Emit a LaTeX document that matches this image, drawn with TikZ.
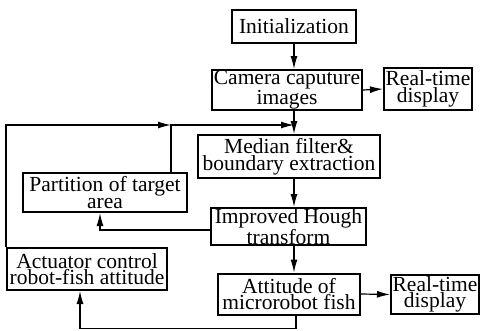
\documentclass[tikz,border=0pt]{standalone}
\usepackage{fontspec}
\setmainfont{Liberation Serif}
\usetikzlibrary{arrows.meta}

\begin{document}
\begin{tikzpicture}[x=1pt,y=-1pt,
    box/.style={draw,line width=2pt,inner sep=0pt,align=center,
      font=\fontsize{21.5}{16.5}\selectfont},
    link/.style={line width=1.2pt,-{Latex[length=13pt,width=7pt]}}]
  \useasboundingbox (0,0) rectangle (480,330);
  % process boxes
  \node[box,minimum width=124pt,minimum height=33pt] (init) at (294,26.5) {Initialization};
  \node[box,minimum width=150pt,minimum height=40pt] (cam) at (287,90) {Camera caputure\\images};
  \node[box,minimum width=88pt,minimum height=42pt] (rtcam) at (428,89) {Real-time\\display};
  \node[box,minimum width=182pt,minimum height=43pt] (median) at (289,156.5) {Median filter\&\\boundary extraction};
  \node[box,minimum width=164pt,minimum height=39pt] (part) at (105,192.5) {Partition of target\\area};
  \node[box,minimum width=155pt,minimum height=37pt] (hough) at (288.5,226.5) {Improved Hough\\transform};
  \node[box,minimum width=160pt,minimum height=42pt] (act) at (87,269) {Actuator control\\robot-fish attitude};
  \node[box,minimum width=142pt,minimum height=41pt] (att) at (289,294) {Attitude of\\microrobot fish};
  \node[box,minimum width=88pt,minimum height=39pt] (rtatt) at (435,294.5) {Real-time\\display};
  % main flow
  \draw[link] (init) -- (init |- cam.north);
  \draw[link] (cam.south -| init) -- (median.north -| init);
  \draw[link] (median.south -| init) -- (hough.north -| init);
  \draw[link] (hough.south -| init) -- (att.north -| init);
  \draw[link] (cam.east) -- (rtcam.west);
  \draw[link] (att.east) -- (rtatt.west);
  % feedback
  \coordinate (j1) at (171,125);
  \coordinate (j2) at (init |- j1);
  \draw[link] ([yshift=-3.5pt]hough.west) -| ([xshift=-5pt]part.south);
  \draw[link] ([xshift=66pt]part.north) |- (j2);
  \draw[link] (act.north west) |- (j1);
  \draw[link] ([xshift=7pt]att.south) -- ++(0,13) -| ([xshift=-7pt]act.south);
\end{tikzpicture}
\end{document}
